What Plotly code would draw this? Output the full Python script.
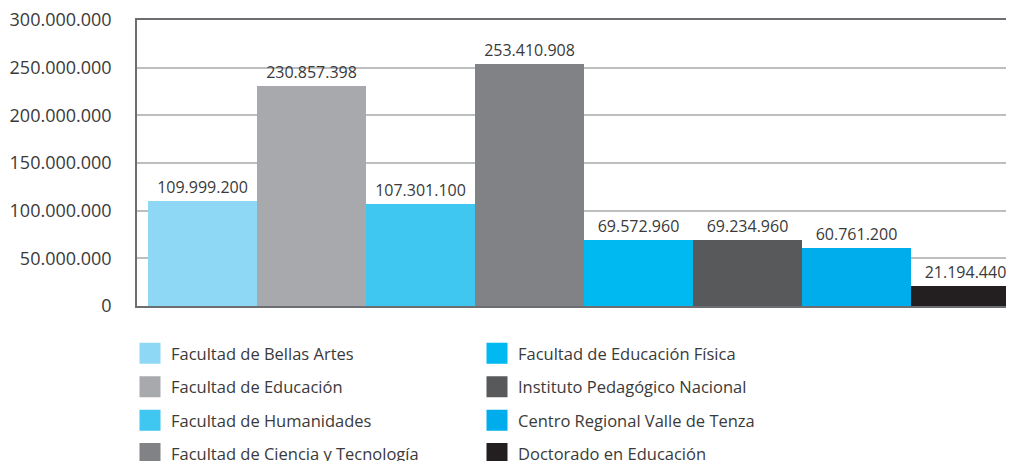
import plotly.graph_objects as go

categories = [
    "Facultad de Bellas Artes",
    "Facultad de Educación",
    "Facultad de Humanidades",
    "Facultad de Ciencia y Tecnología",
    "Facultad de Educación Física",
    "Instituto Pedagógico Nacional",
    "Centro Regional Valle de Tenza",
    "Doctorado en Educación",
]
values = [109999200, 230857398, 107301100, 253410908, 69572960, 69234960, 60761200, 21194440]
colors = ["#8ed8f6", "#a7a9ac", "#3fc6f1", "#808285", "#00b9f1", "#58595b", "#00adec", "#231f20"]
y_ticks = [0, 50000000, 100000000, 150000000, 200000000, 250000000, 300000000]

FONT = "Open Sans"
TXT = "#3a3a3a"
W, H = 998, 461

fig = go.Figure()
fig.add_trace(go.Bar(
    x=list(range(len(categories))),
    y=values,
    width=1,
    marker=dict(color=colors, line=dict(width=0)),
    texttemplate="%{y:,d}",
    textposition="outside",
    textfont=dict(family=FONT, size=16, color=TXT),
    constraintext="none",
    cliponaxis=False,
    showlegend=False,
    hovertext=categories,
))

for i, (name, col) in enumerate(zip(categories, colors)):
    fig.add_trace(go.Scatter(
        x=[None], y=[None], mode="markers", name=name,
        marker=dict(symbol="square", size=16, color=col, line=dict(width=5, color=col)),
        legend="legend" if i < 4 else "legend2",
        legendgroup=name,
    ))

leg_common = dict(
    orientation="v", traceorder="grouped", tracegroupgap=9,
    font=dict(family=FONT, size=16.5, color=TXT),
    bgcolor="rgba(0,0,0,0)", borderwidth=0, itemwidth=32,
    xref="container", yref="container", xanchor="left", yanchor="top",
)

fig.update_layout(
    width=W, height=H,
    margin=dict(l=129, r=0, t=12, b=H - 298, autoexpand=False),
    paper_bgcolor="white", plot_bgcolor="white",
    separators=",.",
    barmode="overlay", bargap=0,
    font=dict(family=FONT, color=TXT),
    legend=dict(x=121 / W, y=1 - 328 / H, **leg_common),
    legend2=dict(x=468 / W, y=1 - 328 / H, **leg_common),
    xaxis=dict(
        range=[-0.6, 7.37], showticklabels=False, ticks="", showgrid=False,
        zeroline=False, showline=True, linecolor="#6d6e71", linewidth=1.5, mirror=True,
    ),
    yaxis=dict(
        range=[0, 300000000], tickvals=y_ticks, tickformat=",d",
        showgrid=True, gridcolor="#bcbec0", gridwidth=1.5,
        zeroline=False, showline=True, linecolor="#6d6e71", linewidth=1.5,
        ticks="", ticklabelstandoff=20, ticklabeloverflow="allow",
        tickfont=dict(family=FONT, size=18, color=TXT),
    ),
)

fig.write_html("out.html")
